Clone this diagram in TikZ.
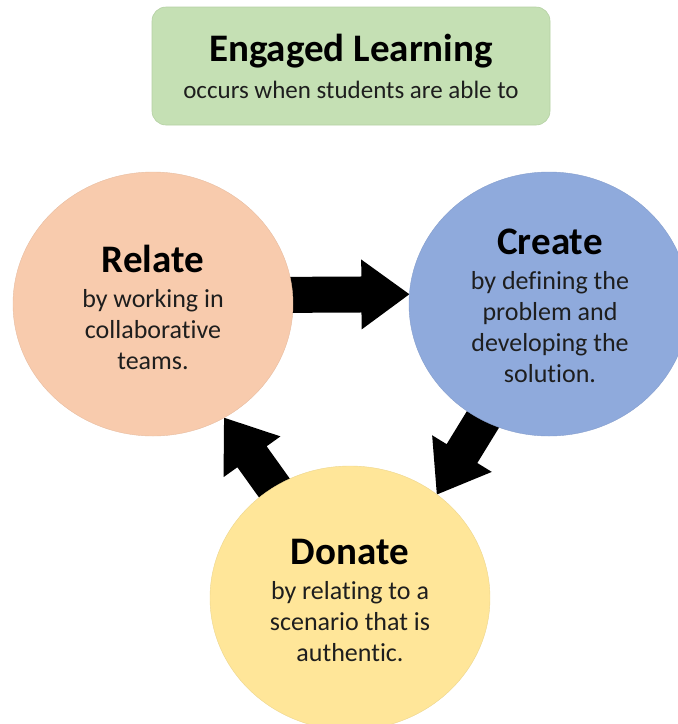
\documentclass[tikz,border=0pt]{standalone}
\usepackage{fontspec}
\setmainfont{Carlito}[Ligatures=NoCommon]
\usetikzlibrary{shapes.geometric,calc,backgrounds}

\definecolor{headfill}{HTML}{C5E0B4}
\definecolor{headline}{HTML}{B4D0A3}
\definecolor{relatefill}{HTML}{F8CBAD}
\definecolor{createfill}{HTML}{8FAADC}
\definecolor{donatefill}{HTML}{FFE699}
\definecolor{bodyink}{HTML}{1E1E1E}

\newcommand\stagetitle{\fontsize{39}{43}\selectfont\bfseries\color{black}}
\newcommand\stagebody{\fontsize{26}{31}\selectfont}
\newcommand\headsub{\fontsize{25}{31}\selectfont}

% Block arrow from #1 (tail) to #2 (tip); #3 names the base of the head
\newcommand\blockarrow[3]{%
  \coordinate (#3) at ($(#2)!48pt!(#1)$);
  \fill[flowarrow]
    ($(#1)!18pt!90:(#2)$) -- ($(#3)!18pt!90:(#2)$) -- ($(#3)!35pt!90:(#2)$)
    -- (#2)
    -- ($(#3)!35pt!-90:(#2)$) -- ($(#3)!18pt!-90:(#2)$) -- ($(#1)!18pt!-90:(#2)$)
    -- cycle;
}

\tikzset{
  header/.style={rectangle, rounded corners=14pt, fill=headfill, draw=headline,
    line width=0.6pt, minimum width=398pt, minimum height=118pt, align=center,
    inner sep=0pt, font=\headsub, text=bodyink},
  stage/.style={ellipse, minimum width=280pt, minimum height=264pt,
    inner sep=0pt, outer sep=0pt, line width=0.4pt},
  stagetext/.style={align=center, font=\stagebody, text=bodyink, inner sep=0pt},
  flowarrow/.style={fill=black}
}

\begin{document}
\begin{tikzpicture}[x=1pt,y=-1pt]
\useasboundingbox (0,0) rectangle (678,724);
\clip (0,0) rectangle (678,724);

% heading
\node[header] (head) at (351,66)
  {{\stagetitle Engaged Learning}\\[6pt]occurs when students are able to};

% the three stages
\node[stage, fill=relatefill, draw=relatefill!93!black] (relate) at (153,304) {};
\node[stage, fill=createfill, draw=createfill!93!black] (create) at (549,304) {};
\node[stage, fill=donatefill, draw=donatefill!93!black] (donate) at (350,598) {};

\node[stagetext] (relatetext) at (153,307)
  {{\stagetitle Relate}\\[4pt]by working in\\collaborative\\teams.};
\node[stagetext] (createtext) at (550,306)
  {{\stagetitle Create}\\[4pt]by defining the\\problem and\\developing the\\solution.};
\node[stagetext] (donatetext) at (350,600)
  {{\stagetitle Donate}\\[4pt]by relating to a\\scenario that is\\authentic.};

% cycle arrows, tucked behind the stages
\coordinate (relatetail) at ($(relate.center)+(110,-9)$);
\coordinate (createtip)  at (create.176.3);
\coordinate (createtail) at ($(create.center)+(-48,86)$);
\coordinate (donatetip)  at (donate.50.3);
\coordinate (donatetail) at ($(donate.center)+(-57,-84)$);
\coordinate (relatetip)  at (relate.-58.6);

\begin{pgfonlayer}{background}
  \blockarrow{relatetail}{createtip}{headA}
  \blockarrow{createtail}{donatetip}{headB}
  \blockarrow{donatetail}{relatetip}{headC}
\end{pgfonlayer}
\end{tikzpicture}
\end{document}
